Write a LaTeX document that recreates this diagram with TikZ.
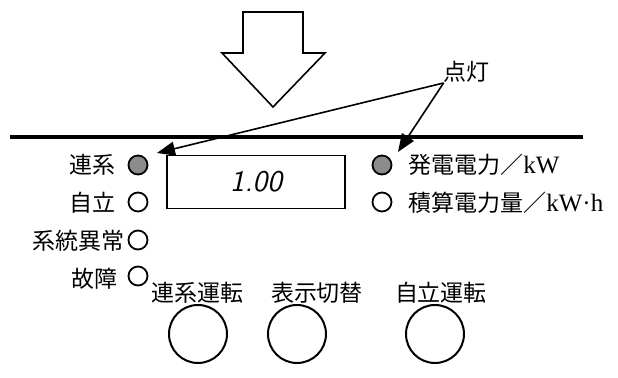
\documentclass[tikz,border=0pt]{standalone}
\usepackage{fontspec}
\setmainfont{Liberation Serif}
\newfontfamily\jp{Noto Sans CJK JP}
\usetikzlibrary{positioning, arrows.meta}
\tikzstyle{led} = [circle, minimum size=9.5pt, inner sep=0pt, draw=black, line width=0.9pt, fill=white]
\tikzstyle{ledon} = [led, fill=black!45]
\tikzstyle{btn} = [circle, minimum size=29pt, inner sep=0pt, draw=black, line width=1pt]
\tikzstyle{lbl} = [inner sep=0pt, font=\jp\fontsize{11.5}{13}\selectfont]
\tikzstyle{disp} = [rectangle, minimum width=89pt, minimum height=26.5pt, draw=black, line width=0.8pt, font=\sffamily\itshape\fontsize{15}{18}\selectfont]
\tikzstyle{arrow} = [line width=0.8pt, -{Triangle[length=9pt,width=7pt]}]
\def\ledx{138}
\def\unit#1{{\rmfamily\fontsize{12.5}{13}\selectfont #1}}

\begin{document}
\begin{tikzpicture}[x=0.5pt, y=-0.5pt]
\useasboundingbox (0,0) rectangle (618,378);

% big arrow and panel edge
\draw [line width=0.8pt, line join=miter] (243,12) -- (303,12) -- (303,53) -- (325,53) -- (273,107) -- (222,53) -- (243,53) -- cycle;
\draw [line width=2pt] (10,137) -- (583,137);

% lamps on the left
\node (led_renkei) [ledon] at (\ledx,165) {};
\node (led_jiritsu) [led] at (\ledx,202) {};
\node (led_ijo) [led] at (\ledx,240) {};
\node (led_kosho) [led] at (\ledx,276) {};

\node (t_renkei) [lbl, anchor=east] at (116,165) {連系};
\node (t_jiritsu) [lbl, anchor=east] at (116,203) {自立};
\node (t_ijo) [lbl, anchor=east] at (125,241) {系統異常};
\node (t_kosho) [lbl, anchor=east] at (118,279) {故障};

% display
\node (display) [disp] at (256,182) {1.00};

% lamps on the right
\node (led_hatsu) [ledon] at (382,165) {};
\node (led_seki) [led] at (382,202) {};
\node (t_hatsu) [lbl, anchor=west] at (408,165) {発電電力／\unit{kW}};
\node (t_seki) [lbl, anchor=west] at (408,203) {積算電力量／\unit{kW·h}};

% lit
\node (tento) [lbl] at (467,72) {点灯};
\coordinate (tip1) at (157,153);
\coordinate (tip2) at (398,152);
\draw [arrow] (tento.south west) -- (tip1);
\draw [arrow] (tento.south west) -- (tip2);

% buttons
\node (btn_renkei) [btn] at (198,334) {};
\node (btn_hyoji) [btn] at (297,334) {};
\node (btn_jiritsu) [btn] at (435,334) {};
\node (tb_renkei) [lbl] at (198,293) {連系運転};
\node (tb_hyoji) [lbl] at (317,293) {表示切替};
\node (tb_jiritsu) [lbl] at (441,293) {自立運転};
\end{tikzpicture}
\end{document}
